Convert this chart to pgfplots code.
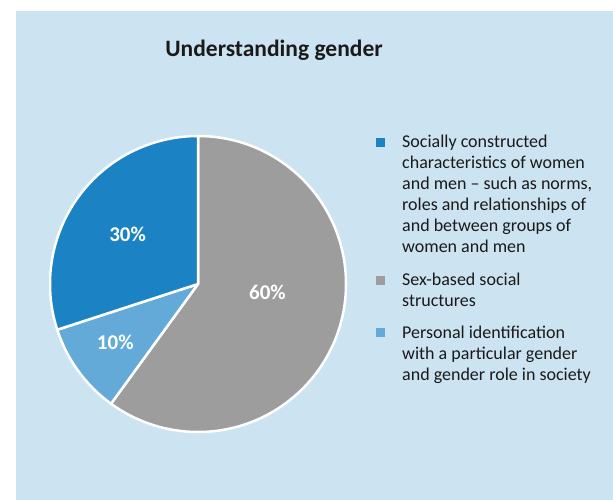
\documentclass[border=0pt]{standalone}
\usepackage{fontspec}
\setmainfont{Carlito}
\usepackage{pgfplots}
\pgfplotsset{compat=1.18}
\usepackage{pgfplotstable}
\definecolor{cBg}{HTML}{CCE3F1}
\definecolor{cDark}{HTML}{1B82C4}
\definecolor{cGray}{HTML}{9D9D9D}
\definecolor{cLight}{HTML}{63AAD8}
\definecolor{cText}{HTML}{1A1A1A}
\colorlet{slice1}{cGray}
\colorlet{slice2}{cLight}
\colorlet{slice3}{cDark}

% share in %, start angle (deg, ccw from +x); slices run clockwise
\pgfplotstableread{
share start idx labang labrad
60    90    1   -7     70
10    -126  2   215    101
30    -162  3   145    86
}\piedata

\begin{document}
\begin{tikzpicture}
\fill[white] (0pt,0pt) rectangle (613pt,-500pt);
\fill[cBg] (16pt,-11pt) rectangle (613pt,-500pt);
\node[font=\fontsize{23.5}{28}\selectfont\bfseries, text=cText]
  at (274pt,-50pt) {Understanding gender};

\begin{axis}[
  at={(198pt,-284pt)}, anchor=center,
  scale only axis, width=296pt, height=296pt,
  xmin=-1, xmax=1, ymin=-1, ymax=1,
  hide axis, clip=false,
]
\addplot[
  scatter, only marks, mark=*, mark size=0pt,
  mark options={draw=none, fill=none},
  point meta=\thisrow{share},
  visualization depends on={\thisrow{share} \as \share},
  visualization depends on={\thisrow{start} \as \startang},
  visualization depends on={\thisrow{labang} \as \labang},
  visualization depends on={\thisrow{labrad} \as \labrad},
  visualization depends on={\thisrow{idx} \as \sliceidx},
  scatter/@pre marker code/.code={
    \pgfmathsetmacro\endang{\startang-3.6*\share}
    \pgfmathtruncatemacro\ci{\sliceidx}
    \pgfmathtruncatemacro\pct{\share}
    \fill[slice\ci, draw=white, line width=2.5pt, line join=round]
      (0pt,0pt) -- (\startang:148pt)
      arc[start angle=\startang, end angle=\endang, radius=148pt] -- cycle;
    \node[text=white, font=\fontsize{21}{24}\selectfont\bfseries]
      at (\labang:\labrad pt) {\pct\%};
  },
  scatter/@post marker code/.code={},
] table[x expr=0, y expr=0] {\piedata};
\end{axis}

% legend
\fill[cDark]  (376pt,-138.5pt) rectangle (385pt,-147.5pt);
\fill[cGray]  (376pt,-275.5pt) rectangle (385pt,-284.5pt);
\fill[cLight] (376pt,-327.5pt) rectangle (385pt,-336.5pt);
\foreach \t/\b in {
  {Socially constructed}/147,
  {characteristics of women}/168,
  {and men – such as norms,}/189,
  {roles and relationships of}/210,
  {and between groups of}/231,
  {women and men}/252,
  {Sex-based social}/285,
  {structures}/306,
  {Personal identification}/338,
  {with a particular gender}/359,
  {and gender role in society}/380}
  \node[anchor=base west, inner sep=0pt, text=cText,
        font=\fontsize{18}{21}\selectfont] at (402pt,-\b pt) {\t};
\end{tikzpicture}
\end{document}
